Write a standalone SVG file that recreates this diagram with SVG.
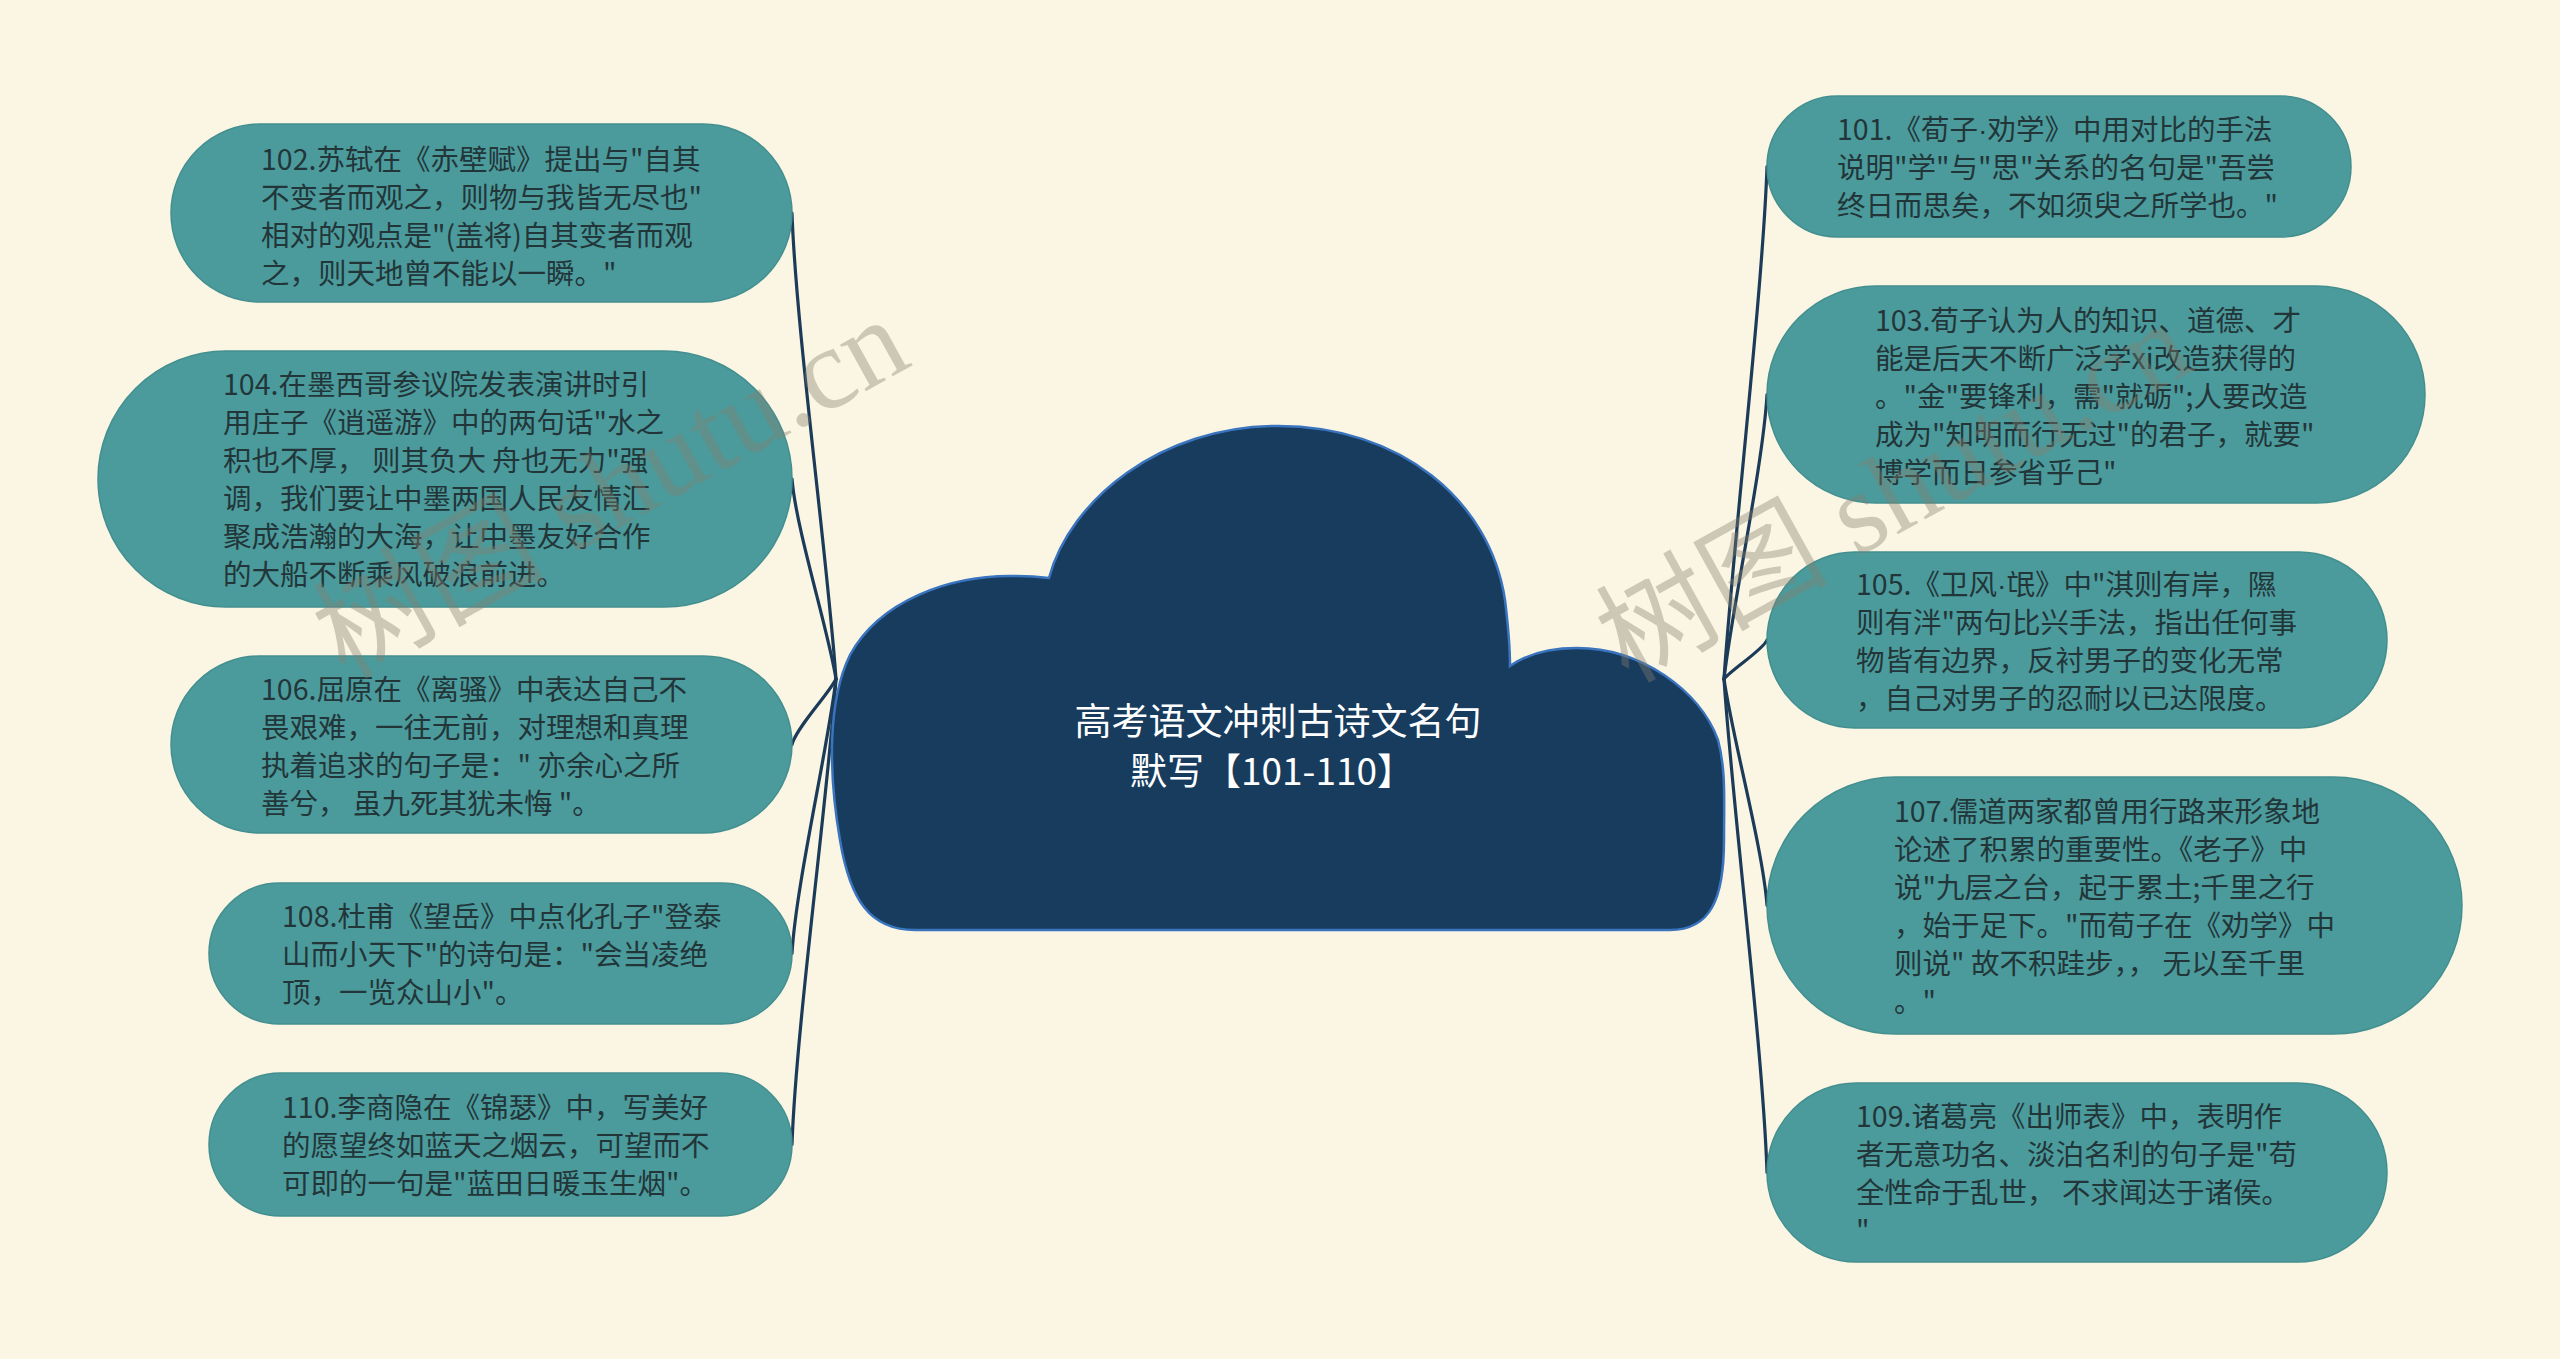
<svg xmlns="http://www.w3.org/2000/svg" width="2560" height="1359" viewBox="0 0 2560 1359">
<style>
.bg{fill:#FAF6E3}
.node{fill:#4C9B9C;stroke:#438F90;stroke-width:1.5}
.nt{font-family:"Noto Sans CJK SC","Noto Sans",sans-serif;font-size:28.5px;fill:#22363A}
.dot{font-family:"Liberation Sans",sans-serif}
.conn{fill:none;stroke:#1C3B59;stroke-width:3.2;stroke-linecap:round}
.cloud{fill:#173C5E;stroke:#3A73BE;stroke-width:2.5}
.title{font-family:"Noto Sans CJK SC","Noto Sans",sans-serif;font-size:37px;fill:#FFFFFF;text-anchor:middle}
.wm{font-family:"Liberation Serif","Noto Sans CJK SC",serif;font-size:116px;fill:#857F6E;opacity:0.38}
</style>
<rect class="bg" x="0" y="0" width="2560" height="1359"/>
<g id="connectors">
<path class="conn" d="M836 679 C828 562, 796 330, 792 213"/>
<path class="conn" d="M836 679 C828 629, 796 529, 792 479"/>
<path class="conn" d="M836 679 C828 695, 796 728, 792 744.5"/>
<path class="conn" d="M836 679 C828 748, 796 884, 792 953.5"/>
<path class="conn" d="M836 679 C828 795, 796 1028, 792 1144.5"/>
<path class="conn" d="M1724 679 C1732 557, 1763 288, 1767 166.5"/>
<path class="conn" d="M1724 679 C1732 608, 1763 466, 1767 394.5"/>
<path class="conn" d="M1724 679 C1732 669, 1763 650, 1767 640"/>
<path class="conn" d="M1724 679 C1732 736, 1763 849, 1767 905.5"/>
<path class="conn" d="M1724 679 C1732 802, 1763 1049, 1767 1172.5"/>
</g>
<g id="root">
<path class="cloud" d="M1049 578 C1070 500, 1160 426, 1278 426 C1400 426, 1490 500, 1505 600 C1508 625, 1510 645, 1510 666 C1530 652, 1555 648, 1577 648 C1640 648, 1700 690, 1718 740 C1726 770, 1724 800, 1724 840 C1724 900, 1710 930, 1670 930 L915 930 C870 930, 850 900, 840 840 C828 770, 828 700, 850 655 C880 600, 950 576, 1010 576 C1025 576, 1040 577, 1049 578 Z"/>
<text class="title" x="1278" y="735">高考语文冲刺古诗文名句</text>
<text class="title" x="1272" y="785">默写【101-110】</text>
</g>
<g id="n102">
<rect class="node" x="171" y="124" width="621" height="178" rx="89"/>
<text class="nt"><tspan x="261" y="170">102.苏轼在《赤壁赋》提出与"自其</tspan><tspan x="261" y="208">不变者而观之，则物与我皆无尽也"</tspan><tspan x="261" y="246">相对的观点是"(盖将)自其变者而观</tspan><tspan x="261" y="284">之，则天地曾不能以一瞬。"</tspan></text>
</g>
<g id="n104">
<rect class="node" x="98" y="351" width="694" height="256" rx="128"/>
<text class="nt"><tspan x="223" y="395">104.在墨西哥参议院发表演讲时引</tspan><tspan x="223" y="433">用庄子《逍遥游》中的两句话"水之</tspan><tspan x="223" y="471">积也不厚， 则其负大 舟也无力"强</tspan><tspan x="223" y="509">调，我们要让中墨两国人民友情汇</tspan><tspan x="223" y="547">聚成浩瀚的大海，让中墨友好合作</tspan><tspan x="223" y="585">的大船不断乘风破浪前进。</tspan></text>
</g>
<g id="n106">
<rect class="node" x="171" y="656" width="621" height="177" rx="88.5"/>
<text class="nt"><tspan x="261" y="700">106.屈原在《离骚》中表达自己不</tspan><tspan x="261" y="738">畏艰难，一往无前，对理想和真理</tspan><tspan x="261" y="776">执着追求的句子是：" 亦余心之所</tspan><tspan x="261" y="814">善兮， 虽九死其犹未悔 "。</tspan></text>
</g>
<g id="n108">
<rect class="node" x="209" y="883" width="583" height="141" rx="70.5"/>
<text class="nt"><tspan x="282" y="927">108.杜甫《望岳》中点化孔子"登泰</tspan><tspan x="282" y="965">山而小天下"的诗句是："会当凌绝</tspan><tspan x="282" y="1003">顶，一览众山小"。</tspan></text>
</g>
<g id="n110">
<rect class="node" x="209" y="1073" width="583" height="143" rx="71.5"/>
<text class="nt"><tspan x="282" y="1118">110.李商隐在《锦瑟》中，写美好</tspan><tspan x="282" y="1156">的愿望终如蓝天之烟云，可望而不</tspan><tspan x="282" y="1194">可即的一句是"蓝田日暖玉生烟"。</tspan></text>
</g>
<g id="n101">
<rect class="node" x="1767" y="96" width="584" height="141" rx="70.5"/>
<text class="nt"><tspan x="1837" y="140">101.《荀子<tspan class="dot">·</tspan>劝学》中用对比的手法</tspan><tspan x="1837" y="178">说明"学"与"思"关系的名句是"吾尝</tspan><tspan x="1837" y="216">终日而思矣，不如须臾之所学也。"</tspan></text>
</g>
<g id="n103">
<rect class="node" x="1767" y="286" width="658" height="217" rx="108.5"/>
<text class="nt"><tspan x="1875" y="331">103.荀子认为人的知识、道德、才</tspan><tspan x="1875" y="369">能是后天不断广泛学xi改造获得的</tspan><tspan x="1875" y="407">。"金"要锋利，需"就砺";人要改造</tspan><tspan x="1875" y="445">成为"知明而行无过"的君子，就要"</tspan><tspan x="1875" y="483">博学而日参省乎己"</tspan></text>
</g>
<g id="n105">
<rect class="node" x="1767" y="552" width="620" height="176" rx="88"/>
<text class="nt"><tspan x="1856" y="595">105.《卫风<tspan class="dot">·</tspan>氓》中"淇则有岸，隰</tspan><tspan x="1856" y="633">则有泮"两句比兴手法，指出任何事</tspan><tspan x="1856" y="671">物皆有边界，反衬男子的变化无常</tspan><tspan x="1856" y="709">，自己对男子的忍耐以已达限度。</tspan></text>
</g>
<g id="n107">
<rect class="node" x="1767" y="777" width="695" height="257" rx="128.5"/>
<text class="nt"><tspan x="1894" y="822">107.儒道两家都曾用行路来形象地</tspan><tspan x="1894" y="860">论述了积累的重要性。《老子》中</tspan><tspan x="1894" y="898">说"九层之台，起于累土;千里之行</tspan><tspan x="1894" y="936">，始于足下。"而荀子在《劝学》中</tspan><tspan x="1894" y="974">则说" 故不积跬步，， 无以至千里</tspan><tspan x="1894" y="1012">。"</tspan></text>
</g>
<g id="n109">
<rect class="node" x="1767" y="1083" width="620" height="179" rx="89.5"/>
<text class="nt"><tspan x="1856" y="1127">109.诸葛亮《出师表》中，表明作</tspan><tspan x="1856" y="1165">者无意功名、淡泊名利的句子是"苟</tspan><tspan x="1856" y="1203">全性命于乱世， 不求闻达于诸侯。</tspan><tspan x="1856" y="1241">"</tspan></text>
</g>
<g id="watermarks">
<text class="wm" x="345" y="680" transform="rotate(-29 345 680)">树图 shutu.cn</text>
<text class="wm" x="1628" y="684" transform="rotate(-29 1628 684)">树图 shutu.cn</text>
</g>
</svg>
